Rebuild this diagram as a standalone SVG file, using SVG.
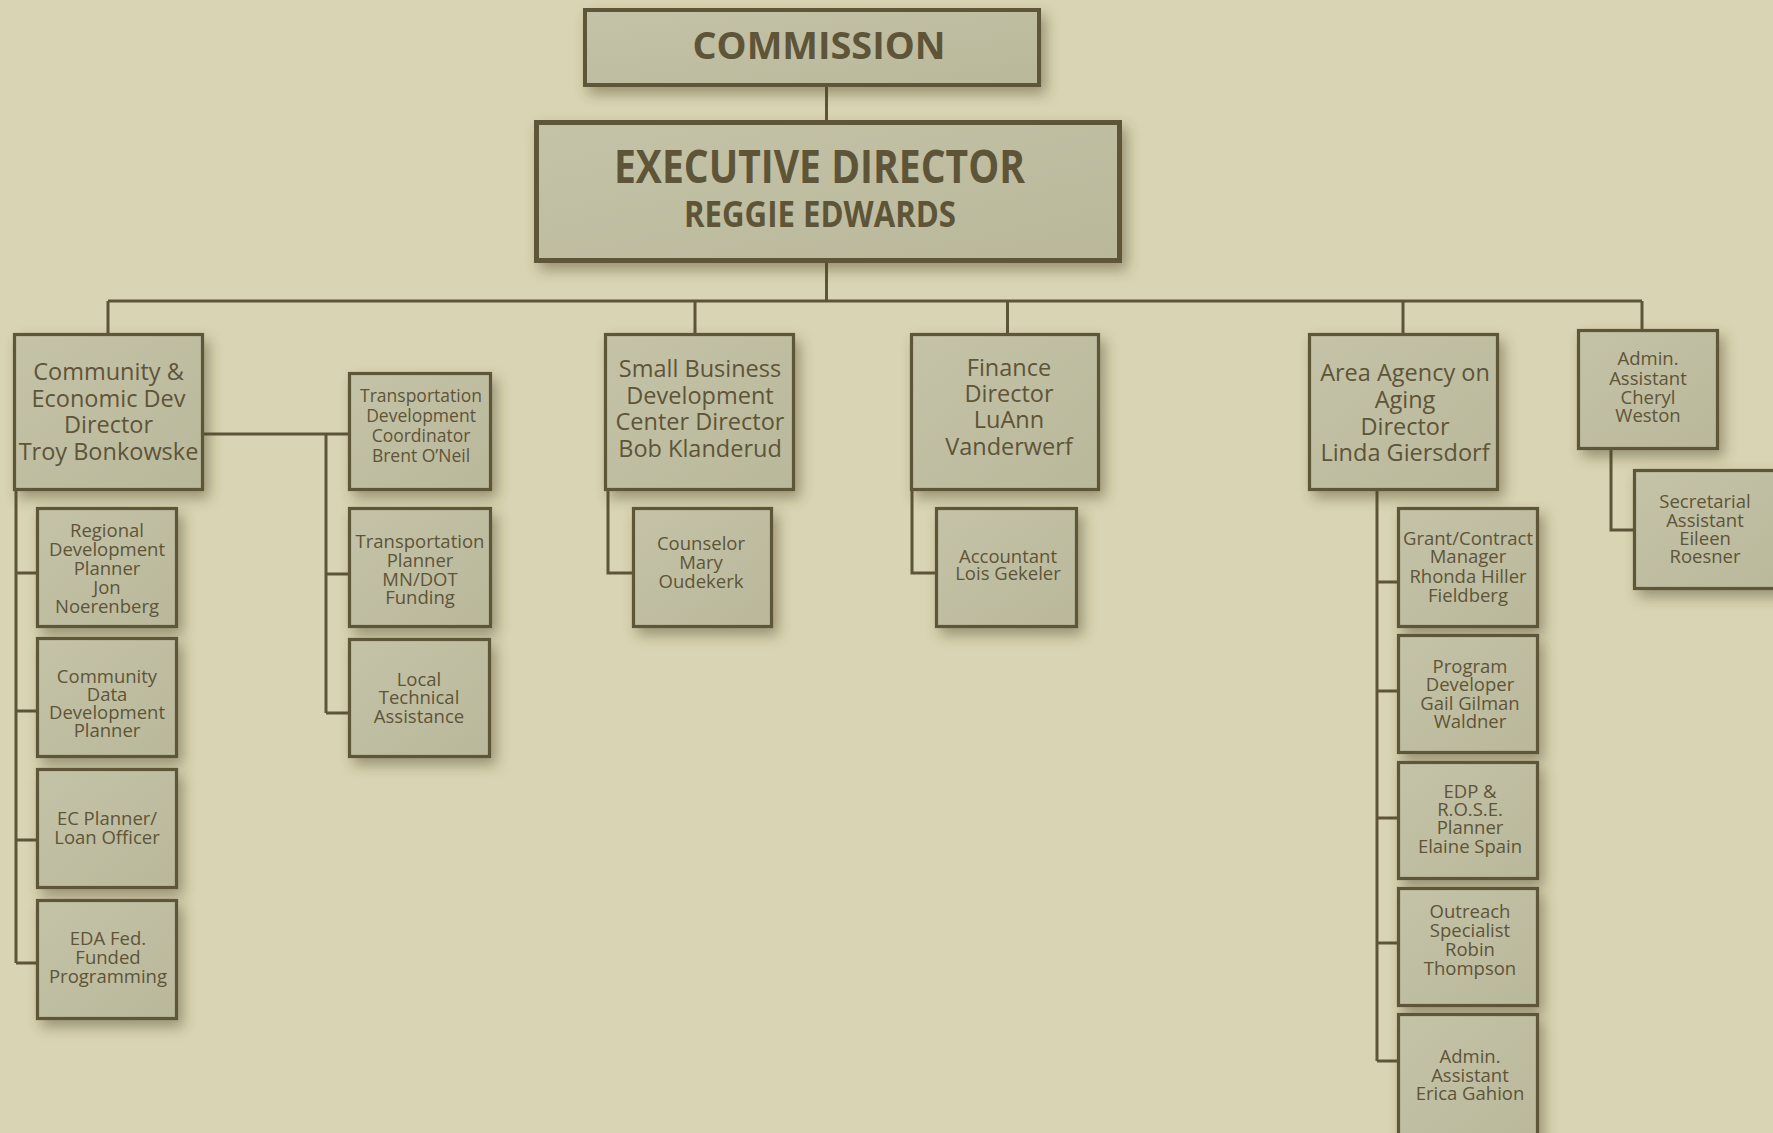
<svg xmlns="http://www.w3.org/2000/svg" width="1773" height="1133" viewBox="0 0 1773 1133">
<defs>
<linearGradient id="bf" x1="0" y1="0" x2="1" y2="1">
<stop offset="0" stop-color="#c4c3a7"/>
<stop offset="1" stop-color="#b9b89b"/>
</linearGradient>
<filter id="sh" x="-20%" y="-20%" width="150%" height="150%">
<feDropShadow dx="5" dy="7" stdDeviation="7" flood-color="#4a4222" flood-opacity="0.45"/>
</filter>
</defs>
<style>
.box{fill:url(#bf);stroke:#5e5438;stroke-width:3.2;filter:url(#sh)}
.t{font-family:"Open Sans","Liberation Sans",sans-serif;fill:#5e5438;text-anchor:middle}
.b{font-size:23.5px}
.s{font-size:18.5px}
.h{font-weight:700}
#connectors{stroke:#5e5438;stroke-width:3;fill:none}
</style>
<rect x="0" y="0" width="1773" height="1133" fill="#d9d5b4"/>

<g id="connectors">
<path d="M826.5 87V120M826.5 263V301M108 301H1642M108 301V333M695 301V333M1007.5 301V333M1403 301V333M1642 301V329"/>
<path d="M204 434H348M326 434V713M326 574H348M326 713H348"/>
<path d="M16 491V963M16 573H36M16 711H36M16 840H36M16 963H36"/>
<path d="M608 491V573H632"/>
<path d="M912 491V573H935"/>
<path d="M1377 491V1061M1377 582H1397M1377 691H1397M1377 818H1397M1377 943H1397M1377 1061H1397"/>
<path d="M1611 450V530H1633"/>
</g>

<g id="commission">
<rect class="box" x="585" y="10" width="454" height="75" style="stroke-width:4"/>
<text class="t h" x="819" y="59" font-size="38" textLength="253" lengthAdjust="spacingAndGlyphs">COMMISSION</text>
</g>

<g id="executive-director">
<rect class="box" x="536.5" y="122.5" width="583" height="138" style="stroke-width:5"/>
<text class="t h" x="819.5" y="183" font-size="46" textLength="411" lengthAdjust="spacingAndGlyphs">EXECUTIVE DIRECTOR</text>
<text class="t h" x="820" y="227" font-size="35" textLength="272" lengthAdjust="spacingAndGlyphs">REGGIE EDWARDS</text>
</g>

<g id="community-econ-dev">
<rect class="box" x="14.5" y="334.5" width="188" height="155"/>
<text class="t b" x="108.5" y="380">Community &amp;</text>
<text class="t b" x="108.5" y="407">Economic Dev</text>
<text class="t b" x="108.5" y="433">Director</text>
<text class="t b" x="108.5" y="460">Troy Bonkowske</text>
</g>

<g id="transportation-dev-coordinator">
<rect class="box" x="349.5" y="373.5" width="141" height="116"/>
<text class="t" x="421" y="402" font-size="17.5">Transportation</text>
<text class="t" x="421" y="422" font-size="17.5">Development</text>
<text class="t" x="421" y="442" font-size="17.5">Coordinator</text>
<text class="t" x="421" y="462" font-size="17.5">Brent O’Neil</text>
</g>

<g id="transportation-planner">
<rect class="box" x="349.5" y="508.5" width="141" height="118"/>
<text class="t s" x="420" y="548">Transportation</text>
<text class="t s" x="420" y="567">Planner</text>
<text class="t s" x="420" y="586">MN/DOT</text>
<text class="t s" x="420" y="604">Funding</text>
</g>

<g id="local-technical-assistance">
<rect class="box" x="349.5" y="639.5" width="140" height="117"/>
<text class="t s" x="419" y="686">Local</text>
<text class="t s" x="419" y="704">Technical</text>
<text class="t s" x="419" y="723">Assistance</text>
</g>

<g id="regional-development-planner">
<rect class="box" x="37.5" y="508.5" width="139" height="118"/>
<text class="t s" x="107" y="537">Regional</text>
<text class="t s" x="107" y="556">Development</text>
<text class="t s" x="107" y="575">Planner</text>
<text class="t s" x="107" y="594">Jon</text>
<text class="t s" x="107" y="613">Noerenberg</text>
</g>

<g id="community-data-planner">
<rect class="box" x="37.5" y="638.5" width="139" height="118"/>
<text class="t s" x="107" y="683">Community</text>
<text class="t s" x="107" y="701">Data</text>
<text class="t s" x="107" y="719">Development</text>
<text class="t s" x="107" y="737">Planner</text>
</g>

<g id="ec-planner">
<rect class="box" x="37.5" y="769.5" width="139" height="118"/>
<text class="t s" x="107" y="825">EC Planner/</text>
<text class="t s" x="107" y="844">Loan Officer</text>
</g>

<g id="eda-programming">
<rect class="box" x="37.5" y="900.5" width="139" height="118"/>
<text class="t s" x="108" y="945">EDA Fed.</text>
<text class="t s" x="108" y="964">Funded</text>
<text class="t s" x="108" y="983">Programming</text>
</g>

<g id="sbdc-director">
<rect class="box" x="605.5" y="334.5" width="188" height="155"/>
<text class="t b" x="700" y="377">Small Business</text>
<text class="t b" x="700" y="404">Development</text>
<text class="t b" x="700" y="430">Center Director</text>
<text class="t b" x="700" y="457">Bob Klanderud</text>
</g>

<g id="counselor">
<rect class="box" x="633.5" y="508.5" width="138" height="118"/>
<text class="t s" x="701" y="550">Counselor</text>
<text class="t s" x="701" y="569">Mary</text>
<text class="t s" x="701" y="588">Oudekerk</text>
</g>

<g id="finance-director">
<rect class="box" x="911.5" y="334.5" width="187" height="155"/>
<text class="t b" x="1009" y="376">Finance</text>
<text class="t b" x="1009" y="402">Director</text>
<text class="t b" x="1009" y="428">LuAnn</text>
<text class="t b" x="1009" y="455">Vanderwerf</text>
</g>

<g id="accountant">
<rect class="box" x="936.5" y="508.5" width="140" height="118"/>
<text class="t s" x="1008" y="563">Accountant</text>
<text class="t s" x="1008" y="580">Lois Gekeler</text>
</g>

<g id="aaa-director">
<rect class="box" x="1309.5" y="334.5" width="188" height="155"/>
<text class="t b" x="1405" y="381">Area Agency on</text>
<text class="t b" x="1405" y="408">Aging</text>
<text class="t b" x="1405" y="435">Director</text>
<text class="t b" x="1405" y="461">Linda Giersdorf</text>
</g>

<g id="grant-contract-manager">
<rect class="box" x="1398.5" y="508.5" width="139" height="118"/>
<text class="t s" x="1468" y="545">Grant/Contract</text>
<text class="t s" x="1468" y="563">Manager</text>
<text class="t s" x="1468" y="583">Rhonda Hiller</text>
<text class="t s" x="1468" y="602">Fieldberg</text>
</g>

<g id="program-developer">
<rect class="box" x="1398.5" y="635.5" width="139" height="117"/>
<text class="t s" x="1470" y="673">Program</text>
<text class="t s" x="1470" y="691">Developer</text>
<text class="t s" x="1470" y="710">Gail Gilman</text>
<text class="t s" x="1470" y="728">Waldner</text>
</g>

<g id="edp-rose-planner">
<rect class="box" x="1398.5" y="762.5" width="139" height="116"/>
<text class="t s" x="1470" y="798">EDP &amp;</text>
<text class="t s" x="1470" y="816">R.O.S.E.</text>
<text class="t s" x="1470" y="834">Planner</text>
<text class="t s" x="1470" y="853">Elaine Spain</text>
</g>

<g id="outreach-specialist">
<rect class="box" x="1398.5" y="888.5" width="139" height="117"/>
<text class="t s" x="1470" y="918">Outreach</text>
<text class="t s" x="1470" y="937">Specialist</text>
<text class="t s" x="1470" y="956">Robin</text>
<text class="t s" x="1470" y="975">Thompson</text>
</g>

<g id="admin-assistant-aaa">
<rect class="box" x="1398.5" y="1014.5" width="139" height="140"/>
<text class="t s" x="1470" y="1063">Admin.</text>
<text class="t s" x="1470" y="1082">Assistant</text>
<text class="t s" x="1470" y="1100">Erica Gahion</text>
</g>

<g id="admin-assistant">
<rect class="box" x="1578.5" y="330.5" width="139" height="118"/>
<text class="t s" x="1648" y="365">Admin.</text>
<text class="t s" x="1648" y="385">Assistant</text>
<text class="t s" x="1648" y="404">Cheryl</text>
<text class="t s" x="1648" y="422">Weston</text>
</g>

<g id="secretarial-assistant">
<rect class="box" x="1634.5" y="470.5" width="170" height="118"/>
<text class="t s" x="1705" y="508">Secretarial</text>
<text class="t s" x="1705" y="527">Assistant</text>
<text class="t s" x="1705" y="545">Eileen</text>
<text class="t s" x="1705" y="563">Roesner</text>
</g>
</svg>
